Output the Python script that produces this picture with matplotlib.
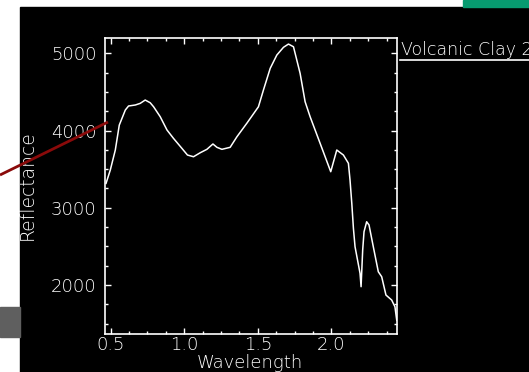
import matplotlib
matplotlib.use("Agg")
import matplotlib.pyplot as plt
from matplotlib.lines import Line2D
from matplotlib.patches import Rectangle
from matplotlib.ticker import MultipleLocator

# spectrum
wavelength = [0.469, 0.498, 0.532, 0.559, 0.600, 0.622, 0.668, 0.701, 0.735,
              0.769, 0.792, 0.837, 0.883, 0.927, 0.984, 1.022, 1.063, 1.109,
              1.154, 1.195, 1.222, 1.256, 1.312, 1.358, 1.425, 1.504, 1.538,
              1.584, 1.629, 1.674, 1.708, 1.742, 1.787, 1.821, 1.855, 1.923,
              1.995, 2.036, 2.081, 2.115, 2.126, 2.138, 2.149, 2.160, 2.194,
              2.201, 2.212, 2.221, 2.239, 2.255, 2.284, 2.318, 2.341, 2.370,
              2.409, 2.431, 2.443]
reflectance = [3316, 3489, 3748, 4071, 4266, 4318, 4331, 4352, 4395,
               4360, 4308, 4179, 4007, 3899, 3770, 3683, 3661, 3713,
               3757, 3826, 3783, 3757, 3783, 3920, 4094, 4308, 4525,
               4806, 4978, 5078, 5120, 5085, 4741, 4373, 4179, 3834,
               3467, 3748, 3683, 3576, 3359, 3057, 2734, 2496, 2151,
               1978, 2453, 2690, 2819, 2777, 2496, 2172, 2107, 1870,
               1805, 1718, 1546]
series_name = "Volcanic Clay 2"

plt.rcParams["font.weight"] = "light"

W, H = 529, 372
fig = plt.figure(figsize=(W / 100, H / 100), dpi=100, facecolor="white")

# screenshot-ish background pieces
bg = fig.add_axes([0, 0, 1, 1])
bg.set_xlim(0, W)
bg.set_ylim(H, 0)
bg.axis("off")
bg.add_patch(Rectangle((20, 7), W - 20, H - 7, color="black"))
bg.add_patch(Rectangle((463, 0), W - 463, 7, color="#079b70"))
bg.add_patch(Rectangle((0, 307), 20, 30, color="#5f5f5f"))

ax = fig.add_axes([105 / W, 1 - 333.5 / H, 292 / W, 296 / H])
ax.set_facecolor("black")
ax.plot(wavelength, reflectance, color="white", lw=1.1)
ax.set_xlim(0.462, 2.445)
ax.set_ylim(1372, 5205)

ax.xaxis.set_minor_locator(MultipleLocator(0.125))
ax.yaxis.set_major_locator(MultipleLocator(1000))
ax.yaxis.set_minor_locator(MultipleLocator(250))
ax.set_xticks([0.5, 1.0, 1.5, 2.0])
ax.set_xticklabels(["0.5", "1.0", "1.5", "2.0"])
ax.tick_params(which="both", direction="in", colors="white",
               top=True, right=True, labelsize=13, width=1)
ax.tick_params(which="major", length=4.5)
ax.tick_params(which="minor", length=2.2)
ax.tick_params(axis="x", pad=1.5)
ax.tick_params(axis="y", pad=6)
for s in ax.spines.values():
    s.set_color("white")
    s.set_linewidth(1.2)

fig.text(27 / W, 1 - 185 / H, "Reflectance", color="white", fontsize=13.5,
         rotation=90, ha="center", va="center")
fig.text(250 / W, 1 - 363.5 / H, "Wavelength", color="white", fontsize=13,
         ha="center", va="center")

# legend entry, cut off at the right edge like the reference
fig.text(401 / W, 1 - 50 / H, series_name, color="white", fontsize=12.5,
         ha="left", va="center")
fig.add_artist(Line2D([400 / W, 1], [1 - 60 / H, 1 - 60 / H],
                      color="white", lw=1.2, transform=fig.transFigure))

# red pointer line, drawn above the plot box
fig.add_artist(Line2D([0, 108 / W], [1 - 175 / H, 1 - 122 / H],
                      color="#8a0a0a", lw=2, solid_capstyle="butt",
                      transform=fig.transFigure, zorder=10))

fig.savefig("out.png", dpi=100, facecolor="white")
